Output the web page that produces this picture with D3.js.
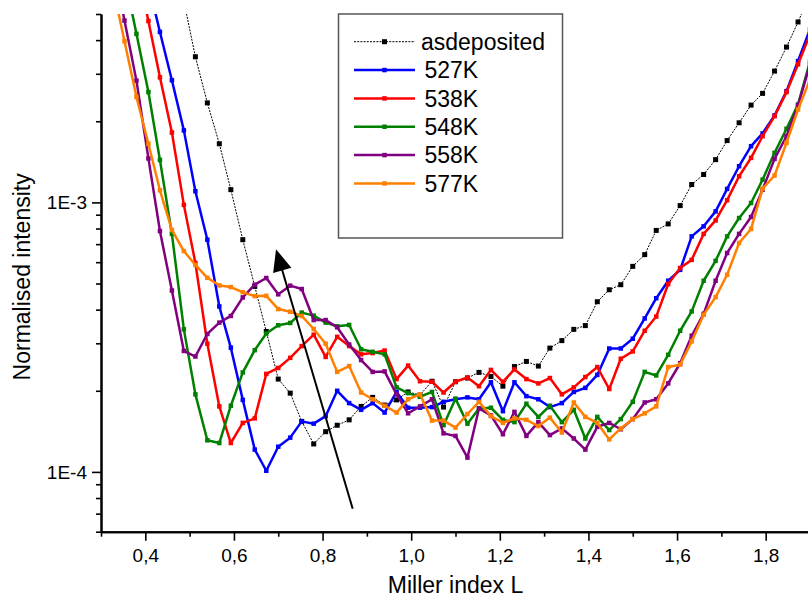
<!DOCTYPE html>
<html><head><meta charset="utf-8">
<script src="https://cdn.jsdelivr.net/npm/d3@7"></script>
<style>
html,body{margin:0;padding:0;background:#fff;}
text{font-family:"Liberation Sans",Arial,Helvetica,sans-serif;fill:#000;}
</style></head>
<body><svg id="c" width="808" height="601"></svg>
<script>
// Miller index L grid
const L = [0.300,0.327,0.353,0.380,0.407,0.433,0.460,0.487,0.513,0.540,0.567,0.593,0.620,0.647,0.673,0.700,0.727,0.753,0.780,0.807,0.833,0.860,0.887,0.913,0.940,0.967,0.993,1.020,1.047,1.073,1.100,1.127,1.153,1.180,1.207,1.233,1.260,1.287,1.313,1.340,1.367,1.393,1.420,1.447,1.473,1.500,1.527,1.553,1.580,1.607,1.633,1.660,1.687,1.713,1.740,1.767,1.793,1.820,1.847,1.873,1.900];

const asdeposited = [null,null,null,null,null,null,null,
 5.58e-3,3.47e-3,2.34e-3,1.65e-3,1.115e-3,7.27e-4,4.88e-4,3.32e-4,2.21e-4,1.96e-4,
 1.54e-4,1.27e-4,1.41e-4,1.49e-4,1.56e-4,1.75e-4,1.89e-4,1.77e-4,1.85e-4,1.98e-4,
 1.93e-4,2.17e-4,1.74e-4,2.16e-4,2.23e-4,2.34e-4,2.26e-4,2.08e-4,2.46e-4,2.57e-4,
 2.47e-4,2.88e-4,3.07e-4,3.38e-4,3.49e-4,4.28e-4,4.74e-4,4.95e-4,5.79e-4,6.40e-4,
 7.87e-4,8.32e-4,9.73e-4,1.165e-3,1.269e-3,1.441e-3,1.696e-3,1.974e-3,2.296e-3,2.538e-3,
 3.07e-3,3.77e-3,4.67e-3,5.92e-3];

const s527K = [null,null,null,null,
 6.45e-3,4.29e-3,2.84e-3,1.85e-3,1.10e-3,7.27e-4,4.11e-4,2.89e-4,1.85e-4,1.21e-4,
 1.01e-4,1.24e-4,1.34e-4,1.54e-4,1.51e-4,1.61e-4,2.00e-4,1.80e-4,1.70e-4,1.80e-4,
 1.66e-4,1.98e-4,1.73e-4,1.73e-4,1.74e-4,1.82e-4,1.86e-4,1.89e-4,1.86e-4,2.15e-4,
 1.68e-4,2.15e-4,1.91e-4,1.86e-4,1.74e-4,1.80e-4,1.98e-4,2.05e-4,2.29e-4,2.87e-4,
 2.87e-4,3.12e-4,3.71e-4,4.41e-4,5.12e-4,5.62e-4,7.48e-4,8.15e-4,9.26e-4,1.122e-3,
 1.362e-3,1.616e-3,1.802e-3,2.102e-3,2.587e-3,3.345e-3,4.385e-3];

const s538K = [null,null,null,
 7.59e-3,4.71e-3,2.91e-3,1.817e-3,9.79e-4,5.96e-4,2.99e-4,1.75e-4,1.28e-4,1.52e-4,
 1.58e-4,2.31e-4,2.43e-4,2.65e-4,2.93e-4,3.23e-4,2.67e-4,3.17e-4,2.93e-4,2.73e-4,
 2.76e-4,2.82e-4,2.21e-4,2.48e-4,2.17e-4,2.16e-4,1.97e-4,2.16e-4,2.24e-4,2.08e-4,
 2.39e-4,2.16e-4,2.40e-4,2.21e-4,2.13e-4,2.23e-4,1.94e-4,2.06e-4,2.25e-4,2.45e-4,
 2.03e-4,2.63e-4,2.80e-4,3.34e-4,3.77e-4,4.98e-4,5.71e-4,6.12e-4,7.64e-4,8.57e-4,
 1.019e-3,1.250e-3,1.463e-3,1.760e-3,2.089e-3,2.566e-3,3.253e-3,4.205e-3];

const s548K = [null,null,
 6.91e-3,4.22e-3,2.566e-3,1.437e-3,7.64e-4,3.38e-4,1.94e-4,1.31e-4,1.28e-4,1.76e-4,
 2.34e-4,2.83e-4,3.26e-4,3.50e-4,3.57e-4,3.90e-4,3.80e-4,3.58e-4,3.47e-4,3.51e-4,
 2.85e-4,2.79e-4,2.73e-4,2.06e-4,1.96e-4,1.90e-4,1.98e-4,1.49e-4,1.87e-4,1.51e-4,
 1.72e-4,1.73e-4,1.56e-4,1.53e-4,1.79e-4,1.60e-4,1.76e-4,1.53e-4,1.70e-4,1.33e-4,
 1.60e-4,1.43e-4,1.57e-4,1.82e-4,2.35e-4,2.28e-4,2.72e-4,3.34e-4,3.94e-4,5.12e-4,
 6.07e-4,7.48e-4,8.75e-4,9.95e-4,1.2145e-3,1.527e-3,1.875e-3,2.310e-3,3.336e-3];

const s558K = [null,
 7.92e-3,4.73e-3,2.83e-3,1.456e-3,7.83e-4,4.71e-4,2.81e-4,2.68e-4,3.25e-4,3.58e-4,
 3.79e-4,4.44e-4,4.95e-4,5.24e-4,4.56e-4,4.91e-4,4.77e-4,3.66e-4,3.66e-4,3.44e-4,
 2.97e-4,2.60e-4,2.35e-4,2.36e-4,1.94e-4,1.65e-4,1.75e-4,1.86e-4,1.39e-4,1.36e-4,
 1.13e-4,1.72e-4,1.62e-4,1.38e-4,1.67e-4,1.36e-4,1.53e-4,1.37e-4,1.45e-4,1.33e-4,
 1.21e-4,1.47e-4,1.52e-4,1.44e-4,1.57e-4,1.81e-4,1.86e-4,2.13e-4,2.53e-4,3.20e-4,
 3.86e-4,5.12e-4,6.49e-4,7.64e-4,8.83e-4,1.115e-3,1.450e-3,1.760e-3,2.290e-3,3.253e-3];

const s577K = [null,
 6.29e-3,3.96e-3,2.46e-3,1.651e-3,1.109e-3,7.90e-4,6.60e-4,5.86e-4,5.25e-4,4.92e-4,
 4.85e-4,4.64e-4,4.49e-4,4.50e-4,4.02e-4,3.93e-4,3.79e-4,3.39e-4,2.99e-4,2.35e-4,
 2.47e-4,1.97e-4,1.86e-4,1.76e-4,1.66e-4,1.86e-4,1.94e-4,1.55e-4,1.55e-4,1.46e-4,
 1.64e-4,1.82e-4,1.61e-4,1.52e-4,1.58e-4,1.56e-4,1.48e-4,1.59e-4,1.40e-4,1.81e-4,
 1.60e-4,1.52e-4,1.32e-4,1.45e-4,1.57e-4,1.65e-4,1.75e-4,2.45e-4,2.50e-4,3.05e-4,
 3.83e-4,4.45e-4,5.39e-4,7.07e-4,7.97e-4,1.125e-3,1.258e-3,1.664e-3,2.211e-3,2.858e-3];

const seriesNames = ["asdeposited","527K","538K","548K","558K","577K"];
const seriesColors = ["#000000","#0000ff","#ff0000","#008000","#800080","#ff8000"];
const seriesValues = [asdeposited,s527K,s538K,s548K,s558K,s577K];

const xMajorTicks = [0.4,0.6,0.8,1.0,1.2,1.4,1.6,1.8];
const xMinorTicks = [0.3,0.5,0.7,0.9,1.1,1.3,1.5,1.7,1.9];
const yMajorTicks = [1e-4,1e-3];
const yTickLabels = ["1E-4","1E-3"];
// arrow drawn in data coordinates (L, intensity)
const arrowFrom = [0.868, 7.3e-5];
const arrowTo = [0.695, 6.7e-4];

const svg = d3.select("#c");
const pL=101, pR=810, pT=14, pB=531.7;
const x = d3.scaleLinear().domain([0.3,1.9]).range([pL,pR]);
const y = d3.scaleLog().domain([6e-5,5e-3]).range([pB,pT]);

svg.append("rect").attr("width",808).attr("height",601).attr("fill","#fff");
svg.append("defs").append("clipPath").attr("id","clip")
  .append("rect").attr("x",pL).attr("y",pT).attr("width",pR-pL).attr("height",pB-pT);

const plot = svg.append("g").attr("clip-path","url(#clip)");

const line = d3.line().defined(d=>d[1]!=null).x(d=>x(d[0])).y(d=>y(d[1]));

seriesValues.forEach((vals,i)=>{
  const pts = L.map((l,j)=>[l,vals[j]]);
  const g = plot.append("g");
  const black = i===0;
  g.append("path").datum(pts).attr("d",line).attr("fill","none")
    .attr("stroke",seriesColors[i])
    .attr("stroke-width",black?1:2.5)
    .attr("stroke-dasharray",black?"2,1.2":null)
    .attr("stroke-linejoin","round");
  const ms = black?5:4.5;
  g.selectAll("rect").data(pts.filter(d=>d[1]!=null)).join("rect")
    .attr("x",d=>x(d[0])-ms/2).attr("y",d=>y(d[1])-ms/2)
    .attr("width",ms).attr("height",ms)
    .attr("fill",seriesColors[i]);
});

// arrow
const ax1=x(arrowFrom[0]), ay1=y(arrowFrom[1]), ax2=x(arrowTo[0]), ay2=y(arrowTo[1]);
const ang = Math.atan2(ay2-ay1, ax2-ax1);
const headLen=22, headW=9.5;
const bx = ax2 - headLen*Math.cos(ang), by = ay2 - headLen*Math.sin(ang);
svg.append("line").attr("x1",ax1).attr("y1",ay1).attr("x2",bx+3*Math.cos(ang)).attr("y2",by+3*Math.sin(ang))
  .attr("stroke","#000").attr("stroke-width",2);
svg.append("path").attr("d",`M${ax2},${ay2}L${bx - headW*Math.sin(ang)},${by + headW*Math.cos(ang)}L${bx + headW*Math.sin(ang)},${by - headW*Math.cos(ang)}Z`)
  .attr("fill","#000");

// axes
const fmtX = d=>d3.format(".1f")(d).replace(".",",");
const xAxis = svg.append("g").attr("transform",`translate(0,${pB})`)
  .call(d3.axisBottom(x).tickValues(xMajorTicks).tickSize(9).tickPadding(8).tickFormat(fmtX).tickSizeOuter(0));
const xMinor = svg.append("g").attr("transform",`translate(0,${pB})`)
  .call(d3.axisBottom(x).tickValues(xMinorTicks).tickSize(5).tickFormat("").tickSizeOuter(0));
const yMinorTicks = y.ticks().filter(v=>!yMajorTicks.some(m=>Math.abs(m-v)/m<1e-6));
const yAxis = svg.append("g").attr("transform",`translate(${pL},0)`)
  .call(d3.axisLeft(y).tickValues(yMajorTicks).tickSize(9).tickPadding(5)
    .tickFormat((d,i)=>yTickLabels[i]).tickSizeOuter(0));
const yMinor = svg.append("g").attr("transform",`translate(${pL},0)`)
  .call(d3.axisLeft(y).tickValues(yMinorTicks).tickSize(5).tickFormat("").tickSizeOuter(0));
[xAxis,xMinor,yAxis,yMinor].forEach(g=>{
  g.selectAll(".domain").attr("stroke","#000").attr("stroke-width",2);
  g.selectAll(".tick line").attr("stroke","#000").attr("stroke-width",1.6);
  g.selectAll("text").attr("font-size",19).attr("font-family","Liberation Sans, Arial, sans-serif").attr("fill","#000");
});

// axis titles
svg.append("text").attr("x",(pL+pR)/2).attr("y",593).attr("text-anchor","middle")
  .attr("font-size",23).text("Miller index L");
svg.append("text").attr("transform",`translate(30,${(pT+pB)/2+4}) rotate(-90)`).attr("text-anchor","middle")
  .attr("font-size",23).text("Normalised intensity");

// legend
const lg = svg.append("g");
lg.append("rect").attr("x",338.5).attr("y",14).attr("width",224).attr("height",224)
  .attr("fill","#fff").attr("stroke","#555").attr("stroke-width",1.5);
seriesNames.forEach((n,i)=>{
  const ry = 41.7 + i*28.35;
  const black = i===0;
  lg.append("line").attr("x1",354).attr("x2",415).attr("y1",ry).attr("y2",ry)
    .attr("stroke",seriesColors[i]).attr("stroke-width",black?1:2.5)
    .attr("stroke-dasharray",black?"2,1.2":null);
  const ms = black?5:4.5;
  lg.append("rect").attr("x",384.5-ms/2).attr("y",ry-ms/2).attr("width",ms).attr("height",ms).attr("fill",seriesColors[i]);
  lg.append("text").attr("x",black?421:424.5).attr("y",ry+8.3).attr("font-size",23).text(n);
});
</script></body></html>
